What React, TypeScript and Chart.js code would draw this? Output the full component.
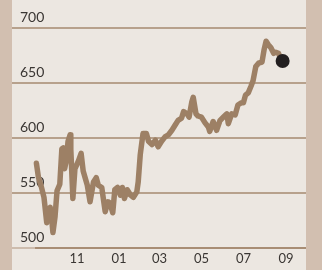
import React, { useEffect, useRef } from "react";
import { Chart, registerables } from "chart.js";

Chart.register(...registerables);

// days since 1 Sep (start of series)
const days = [
  2, 5, 9, 13, 17, 19, 22, 24, 26, 29, 32, 36, 39, 41, 43, 45, 48, 51, 52, 55,
  58, 63, 67, 70, 76, 80, 85, 89, 92, 97, 102, 106, 109, 113, 116, 120, 124, 127,
  130, 134, 139, 143, 148, 150, 153, 157, 162, 165, 170, 175, 179, 184, 189, 194,
  199, 204, 208, 213, 216, 221, 224, 228, 230, 234, 237, 242, 247, 252, 254, 259,
  264, 269, 274, 279, 281, 286, 291, 295, 300, 303, 306, 310, 314, 317, 321, 325,
  330, 333, 336, 339, 343, 347, 350, 354, 356, 360,
];
const values = [
  577, 564, 556, 546, 523, 535, 537, 528, 514, 528, 552, 558, 590, 591, 572, 578,
  597, 603, 590, 545, 572, 579, 586, 570, 557, 542, 560, 564, 557, 555, 533, 542,
  541, 532, 553, 555, 548, 555, 545, 553, 548, 546, 551, 560, 585, 604, 604, 597,
  594, 598, 592, 597, 601, 603, 607, 612, 616, 618, 624, 622, 619, 633, 637, 622,
  620, 619, 614, 610, 606, 615, 607, 616, 619, 622, 613, 622, 621, 630, 632, 632,
  639, 641, 647, 652, 665, 668, 669, 680, 688, 685, 682, 677, 678, 677, 674, 670,
];
const xTickDays = [61, 122, 181, 242, 303, 365];
const xTickLabels = ["11", "01", "03", "05", "07", "09"];
const yTicks = [500, 550, 600, 650, 700];

const STRIP = "#d2bfb0";
const PANEL = "#ece7e1";
const LINE = "#9d8065";
const GRID = "#b7a18c";
const GRID_LIGHT = "#cdbcad";
const AXIS_DARK = "#a88d74";
const TEXT = "#3a3633";

const bgPlugin = {
  id: "bgPanel",
  beforeDraw(chart: any) {
    const { ctx, width, height, chartArea } = chart;
    ctx.save();
    ctx.fillStyle = STRIP;
    ctx.fillRect(0, 0, width, height);
    ctx.fillStyle = PANEL;
    ctx.fillRect(chartArea.left, 0, chartArea.right - chartArea.left, height);
    ctx.restore();
  },
  beforeDatasetsDraw(chart: any) {
    const { ctx, scales, chartArea } = chart;
    const y = scales.y.getPixelForValue(500);
    const x0 = scales.x.getPixelForValue(0);
    ctx.save();
    ctx.strokeStyle = AXIS_DARK;
    ctx.lineWidth = 2;
    ctx.beginPath();
    ctx.moveTo(x0, y);
    ctx.lineTo(chartArea.right, y);
    ctx.stroke();
    ctx.restore();
  },
};

export default function App() {
  const ref = useRef<HTMLCanvasElement>(null);
  useEffect(() => {
    if (!ref.current) return;
    const last = values.length - 1;
    const chart = new Chart(ref.current, {
      type: "line",
      data: {
        datasets: [
          {
            data: days.map((d, i) => ({ x: d, y: values[i] })),
            borderColor: LINE,
            borderWidth: 5.5,
            borderJoinStyle: "round",
            borderCapStyle: "round",
            tension: 0,
            clip: false,
            pointRadius: (c: any) => (c.dataIndex === last ? 7 : 0),
            pointBackgroundColor: "#231f20",
            pointBorderColor: "#231f20",
            pointBorderWidth: 0,
          } as any,
        ],
      },
      options: {
        animation: false,
        responsive: false,
        events: [],
        layout: { autoPadding: false, padding: { left: 12, right: 16, top: 0, bottom: 0 } },
        plugins: { legend: { display: false }, tooltip: { enabled: false } },
        scales: {
          x: {
            type: "linear",
            min: -33.5,
            max: 394,
            grid: { display: false, drawTicks: false },
            border: { display: false },
            afterBuildTicks: (s: any) => {
              s.ticks = xTickDays.map((v) => ({ value: v }));
            },
            afterFit: (s: any) => {
              s.height = 22;
              s.paddingLeft = 0;
              s.paddingRight = 0;
            },
            ticks: {
              autoSkip: false,
              maxRotation: 0,
              padding: 3,
              color: TEXT,
              font: { family: "Lato", size: 13 },
              callback: (v: any) => {
                const i = xTickDays.indexOf(Number(v));
                return i >= 0 ? xTickLabels[i] : "";
              },
            },
          },
          y: {
            type: "linear",
            min: 500,
            max: 725.45,
            grid: {
              drawTicks: false,
              lineWidth: 2,
              color: (c: any) => (c.tick && c.tick.value === 500 ? GRID_LIGHT : GRID),
            },
            border: { display: false },
            afterBuildTicks: (s: any) => {
              s.ticks = yTicks.map((v) => ({ value: v }));
            },
            afterFit: (s: any) => {
              s.width = 0;
              s.paddingTop = 0;
              s.paddingBottom = 0;
            },
            ticks: {
              mirror: true,
              padding: 8,
              labelOffset: -11,
              color: TEXT,
              font: { family: "Lato", size: 14 },
            },
          },
        },
      },
      plugins: [bgPlugin],
    });
    return () => chart.destroy();
  }, []);
  return (
    <div style={{ position: "fixed", left: 0, top: 0, width: 322, height: 270 }}>
      <canvas ref={ref} width={322} height={270} style={{ display: "block" }} />
    </div>
  );
}
